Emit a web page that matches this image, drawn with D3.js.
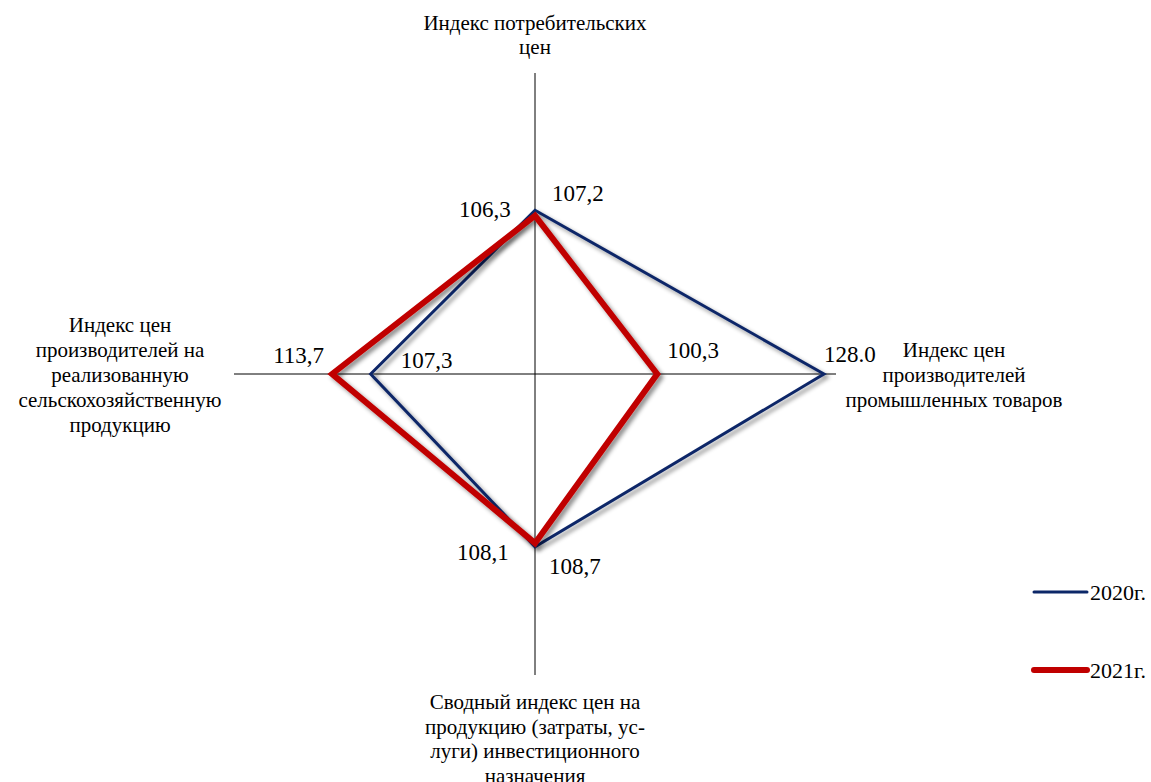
<!DOCTYPE html>
<html>
<head>
<meta charset="utf-8">
<script src="https://cdn.jsdelivr.net/npm/d3@7/dist/d3.min.js"></script>
<style>
  body { margin: 0; background: #fff; }
</style>
</head>
<body>
<div id="chart"></div>
<script>
// categories, clockwise from the top
var categories = [
    ["Индекс потребительских", "цен"],
    ["Индекс цен", "производителей", "промышленных товаров"],
    ["Сводный индекс цен на", "продукцию (затраты, ус-", "луги) инвестиционного", "назначения"],
    ["Индекс цен", "производителей на", "реализованную", "сельскохозяйственную", "продукцию"]
];
var seriesNames = ["2020г.", "2021г."];
var values2020 = [107.2, 128.0, 108.7, 107.3];
var values2021 = [106.3, 100.3, 108.1, 113.7];
var labels2020 = ["107,2", "128.0", "108,7", "107,3"];
var labels2021 = ["106,3", "100,3", "108,1", "113,7"];

var width = 1151, height = 782;
var cx = 535, cy = 374, radius = 301;
var font = "'Liberation Serif', 'Times New Roman', 'DejaVu Serif', serif";

var svg = d3.select("#chart").append("svg")
    .attr("width", width)
    .attr("height", height)
    .style("font-family", font);

var defs = svg.append("defs");
var shadow = defs.append("filter").attr("id", "shadow")
    .attr("x", "-10%").attr("y", "-10%").attr("width", "120%").attr("height", "120%");
shadow.append("feDropShadow")
    .attr("dx", 3).attr("dy", 3).attr("stdDeviation", 2.2)
    .attr("flood-color", "#000").attr("flood-opacity", 0.45);

var r = d3.scaleLinear().domain([80, 130]).range([0, radius]);
var angle = d3.scalePoint().domain(d3.range(categories.length)).range([0, 2 * Math.PI * 3 / 4]);

var g = svg.append("g").attr("transform", "translate(" + cx + "," + cy + ")");

// axes
g.selectAll("line.axis").data(d3.range(categories.length)).enter().append("line")
    .attr("class", "axis")
    .attr("x1", 0).attr("y1", 0)
    .attr("x2", function(d){ return radius * Math.sin(angle(d)); })
    .attr("y2", function(d){ return -radius * Math.cos(angle(d)); })
    .attr("stroke", "#000").attr("stroke-width", 1);

var line = d3.lineRadial()
    .angle(function(d, i){ return angle(i); })
    .radius(function(d){ return r(d); })
    .curve(d3.curveLinearClosed);

var colors = ["#0c2768", "#c00000"];
var widths = [3, 6];

[values2020, values2021].forEach(function(vals, k){
    g.append("path")
        .attr("d", line(vals))
        .attr("fill", "none")
        .attr("stroke", colors[k])
        .attr("stroke-width", widths[k])
        .attr("stroke-linejoin", "miter")
        .attr("filter", "url(#shadow)");
});

// value labels (offsets relative to the vertex)
function pt(i, v){
    return [r(v) * Math.sin(angle(i)), -r(v) * Math.cos(angle(i))];
}
var off2020 = [[17, -9], [0, -12], [14, 27], [30, -6]];
var off2021 = [[-76, 1], [10, -16], [-78, 17], [-59, -11]];
[[values2020, labels2020, off2020], [values2021, labels2021, off2021]].forEach(function(s){
    s[0].forEach(function(v, i){
        var p = pt(i, v);
        g.append("text")
            .attr("x", p[0] + s[2][i][0])
            .attr("y", p[1] + s[2][i][1])
            .attr("font-size", 23)
            .attr("fill", "#000")
            .text(s[1][i]);
    });
});

// category labels
var catPos = [[535, 30], [954, 357], [535, 709], [120, 332]];
var lh = [24, 25, 24.5, 25];
categories.forEach(function(lines, i){
    var t = svg.append("text")
        .attr("text-anchor", "middle")
        .attr("font-size", 21)
        .attr("fill", "#000");
    lines.forEach(function(s, j){
        t.append("tspan")
            .attr("x", catPos[i][0])
            .attr("y", catPos[i][1] + j * lh[i])
            .text(s);
    });
});

// legend
var legend = svg.append("g");
var legY = [592, 670];
seriesNames.forEach(function(n, k){
    legend.append("line")
        .attr("x1", 1034).attr("x2", 1087)
        .attr("y1", legY[k]).attr("y2", legY[k])
        .attr("stroke", colors[k])
        .attr("stroke-width", widths[k])
        .attr("stroke-linecap", "round");
    legend.append("text")
        .attr("x", 1090).attr("y", legY[k] + 8)
        .attr("font-size", 22)
        .attr("fill", "#000")
        .text(n);
});
</script>
</body>
</html>
